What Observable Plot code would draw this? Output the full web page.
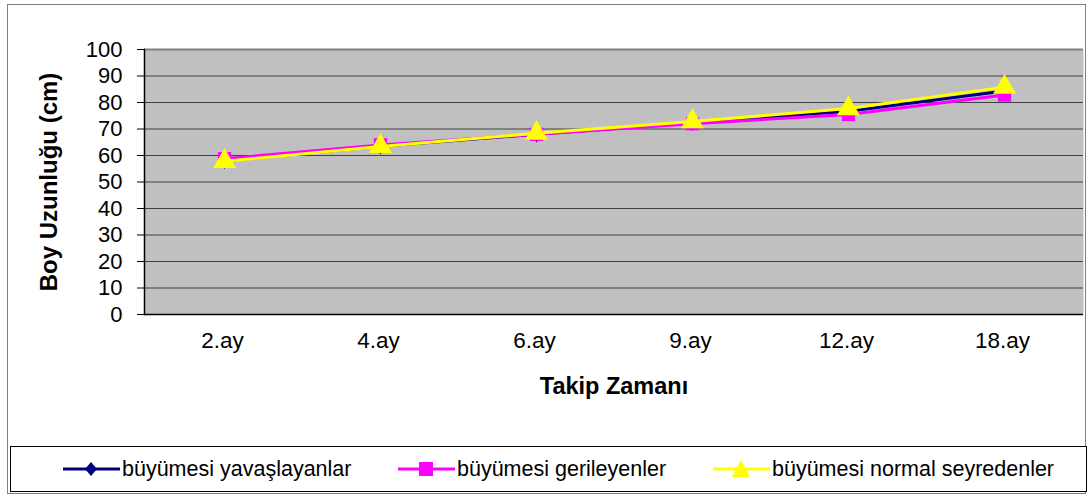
<!DOCTYPE html>
<html><head><meta charset="utf-8">
<script src="https://cdn.jsdelivr.net/npm/d3@7"></script>
<script src="https://cdn.jsdelivr.net/npm/@observablehq/plot@0.6"></script>
<style>
body{margin:0;background:#fff;font-family:"Liberation Sans",Arial,sans-serif;}
#wrap{position:relative;width:1091px;height:500px;}
#outer{position:absolute;left:7px;top:4px;width:1079px;height:490px;border:1px solid #808080;box-sizing:border-box;}
#legend{position:absolute;left:10px;top:446px;width:1077px;height:46px;border:1px solid #000;box-sizing:border-box;background:#fff;}
.item{position:absolute;top:0;height:44px;display:flex;align-items:center;font-size:21.5px;color:#000;}
.item svg{margin-right:2px;}
#chart{position:absolute;left:0;top:0;}
</style></head>
<body><div id="wrap"><div id="outer"></div><div id="chart"></div><div id="legend"></div></div>
<script>
const months = ["2.ay","4.ay","6.ay","9.ay","12.ay","18.ay"];
const seriesNames = ["büyümesi yavaşlayanlar","büyümesi gerileyenler","büyümesi normal seyredenler"];
const yavaslayan = [58, 63.5, 68, 72.4, 76.7, 84.3];
const gerileyen = [58.8, 64, 68, 72.0, 75.5, 82.8];
const normal = [57.8, 63.4, 68.4, 72.8, 77.7, 85.8];
const yTicks = [0,10,20,30,40,50,60,70,80,90,100];

const colors = ["#000080","#FF00FF","#FFFF00"];
const symbols = ["diamond","square","triangle"];
const allSeries = [yavaslayan, gerileyen, normal];
const data = [];
allSeries.forEach((vals, si) => vals.forEach((v, i) => data.push({series: seriesNames[si], month: months[i], value: v})));

const marks = [
  Plot.frame({fill:"#C0C0C0", stroke:null}),
  Plot.gridY(yTicks.filter(d=>d>0 && d<100), {stroke:"#404040", strokeOpacity:1, strokeWidth:1}),
  Plot.ruleY([100], {stroke:"#808080", strokeWidth:2}),
  Plot.axisY({ticks: yTicks, tickSize:7, tickPadding:15, fontSize:22, label:null}),
  Plot.axisX({tickSize:0, tickPadding:18, fontSize:22.5, label:null, dx:-2}),
  Plot.ruleY([0], {stroke:"#000", strokeWidth:1.5}),
  Plot.frame({anchor:"left", stroke:"#000", strokeWidth:1.5}),
  Plot.text(["Boy Uzunluğu (cm)"], {frameAnchor:"left", textAnchor:"middle", dx:-95, rotate:-90, fontSize:24, fontWeight:"bold", fill:"#000"}),
  Plot.text(["Takip Zamanı"], {frameAnchor:"bottom", textAnchor:"middle", dy:79, fontSize:23.5, fontWeight:"bold", fill:"#000"})
];
seriesNames.forEach((s, si) => {
  const d = data.filter(r => r.series === s);
  marks.push(Plot.line(d, {x:"month", y:"value", stroke:colors[si], strokeWidth:3}));
});
seriesNames.forEach((s, si) => {
  const d = data.filter(r => r.series === s);
  marks.push(Plot.dot(d, {x:"month", y:"value", symbol:()=>symbols[si], fill:colors[si], stroke:null, r: si===0 ? 5 : si===2 ? 8.5 : 7.5}));
});

const chart = Plot.plot({
  width:1091, height:500,
  marginLeft:144, marginRight:8, marginTop:49, marginBottom:186,
  style:{fontFamily:"Liberation Sans, Arial, sans-serif", color:"#000", background:"transparent", overflow:"visible"},
  x:{type:"band", domain:months, padding:0},
  y:{domain:[0,100]},
  symbol:{type:"identity"},
  marks
});
document.getElementById("chart").appendChild(chart);

const legend = document.getElementById("legend");
const lx = [52, 387, 702];
seriesNames.forEach((s, si) => {
  const div = document.createElement("div");
  div.className = "item";
  div.style.left = lx[si] + "px";
  const path = si===0 ? "M28,4 L34,11 L28,18 L22,11 Z" : si===1 ? "M21,4 H35 V18 H21 Z" : "M28,2 L37,19 H19 Z";
  div.innerHTML = `<svg width="57" height="22"><line x1="0" y1="11" x2="57" y2="11" stroke="${colors[si]}" stroke-width="3"/><path d="${path}" fill="${colors[si]}"/></svg><span>${s}</span>`;
  legend.appendChild(div);
});
</script></body></html>
